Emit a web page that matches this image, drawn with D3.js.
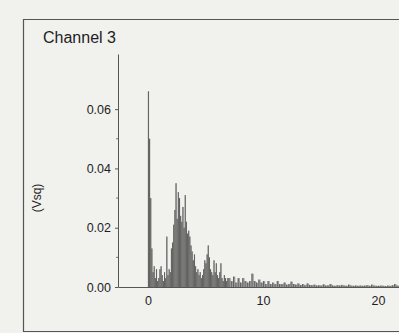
<!DOCTYPE html>
<html>
<head>
<meta charset="utf-8">
<script src="https://cdn.jsdelivr.net/npm/d3@7"></script>
<style>
  body { margin: 0; background: #f1f1ee; }
  text { font-family: "Liberation Sans", Arial, sans-serif; fill: #1e1e1e; }
</style>
</head>
<body>
<div id="chart"></div>
<script>
// spectrum values in units of 0.001 Vsq
// head: 0.0 .. 6.9 Hz, step 0.1
const headStep = 0.1;
const headValues = [
  66, 50, 30, 13, 5, 7, 3, 6, 2, 3,
  6, 7, 4, 2, 5, 3, 17, 4, 6, 5,
  13, 15, 21, 26, 35, 23, 32, 30, 24, 22,
  27, 20, 31, 22, 18, 19, 17, 14, 12, 9,
  11, 7, 5, 6, 4, 5, 3, 4, 6, 9,
  8, 11, 14, 10, 6, 5, 4, 9, 5, 8,
  4, 3, 5, 8, 3, 2, 4, 3, 2, 3
];
// tail: 7.0 .. 22.0 Hz, step 0.2
const tailStart = 7.0;
const tailStep = 0.2;
const tailValues = [
  3, 2, 3.5, 1.5, 3, 1.5, 3, 2, 1.5, 2,
  4.5, 2, 1.5, 2.5, 1.5, 2, 1, 2, 1, 1.5,
  1, 2, 1, 1, 1.5, 0.8, 1, 1.8, 1, 0.8,
  1.2, 0.7, 1, 0.6, 1.2, 0.7, 0.6, 0.8, 0.5, 0.6,
  0.5, 0.9, 0.5, 0.6, 1, 0.5, 0.4, 0.6, 0.5, 0.7,
  0.5, 0.4, 0.8, 0.5, 0.4, 0.5, 0.4, 0.5, 0.4, 0.5,
  0.6, 0.4, 0.8, 0.5, 0.4, 0.4, 0.5, 0.4, 0.3, 0.5,
  0.4, 0.6, 1, 0.5, 0.4, 0.4
];
const xTicks = [0, 10, 20];
const yTicks = [0, 0.02, 0.04, 0.06];
const yMinorTicks = [0.01, 0.03, 0.05];
const title = "Channel 3";
const yLabel = "(Vsq)";

const width = 399, height = 333;

const bars = headValues.map((v, i) => ({f: i * headStep, v: v / 1000, w: headStep}))
  .concat(tailValues.map((v, i) => ({f: tailStart + i * tailStep, v: v / 1000, w: tailStep})));

const x = d3.scaleLinear().domain([-2.6, 22]).range([118, 401]);
const y = d3.scaleLinear().domain([0, 0.0786]).range([287, 54]);

const svg = d3.select('#chart')
  .append('svg')
  .attr('width', width)
  .attr('height', height);

svg.append('rect')
  .attr('width', width).attr('height', height)
  .attr('fill', '#f1f1ee');

// outer frame
svg.append('path')
  .attr('d', 'M405,19.5H23.5V331.5H405')
  .attr('fill', 'none')
  .attr('stroke', '#555')
  .attr('stroke-width', 1.2);

svg.append('text')
  .attr('x', 43).attr('y', 43)
  .attr('font-size', 16)
  .text(title);

svg.append('text')
  .attr('transform', 'translate(41,198) rotate(-90)')
  .attr('text-anchor', 'middle')
  .attr('font-size', 12)
  .text(yLabel);

// spectrum bars
const plot = svg.append('g');
plot.selectAll('rect')
  .data(bars)
  .join('rect')
  .attr('x', d => x(d.f))
  .attr('y', d => y(d.v))
  .attr('width', d => Math.max(1, x(d.f + d.w) - x(d.f)))
  .attr('height', d => y(0) - y(d.v))
  .attr('fill', '#9a9a98');

plot.selectAll('line')
  .data(bars)
  .join('line')
  .attr('x1', d => x(d.f) + 0.5)
  .attr('x2', d => x(d.f) + 0.5)
  .attr('y1', d => y(d.v))
  .attr('y2', y(0))
  .attr('stroke', '#505050')
  .attr('stroke-width', 0.8);

// y axis
const yAxis = svg.append('g')
  .attr('transform', 'translate(118,0)')
  .call(d3.axisLeft(y).tickValues(yTicks).tickFormat(d3.format('.2f')).tickSize(3).tickSizeOuter(0));
yAxis.select('.domain').attr('stroke', '#555');
yAxis.selectAll('.tick line').attr('stroke', '#555');
yAxis.selectAll('text').attr('font-size', 12.5).attr('fill', '#1e1e1e').attr('dx', -1);

svg.append('g')
  .selectAll('line')
  .data(yMinorTicks)
  .join('line')
  .attr('x1', 116).attr('x2', 118)
  .attr('y1', d => y(d)).attr('y2', d => y(d))
  .attr('stroke', '#777');

// x axis
const xAxis = svg.append('g')
  .attr('transform', 'translate(0,287)')
  .call(d3.axisBottom(x).tickValues(xTicks).tickSize(0).tickPadding(9));
xAxis.select('.domain').attr('stroke', '#555');
xAxis.selectAll('text').attr('font-size', 12.5).attr('fill', '#1e1e1e');
</script>
</body>
</html>
